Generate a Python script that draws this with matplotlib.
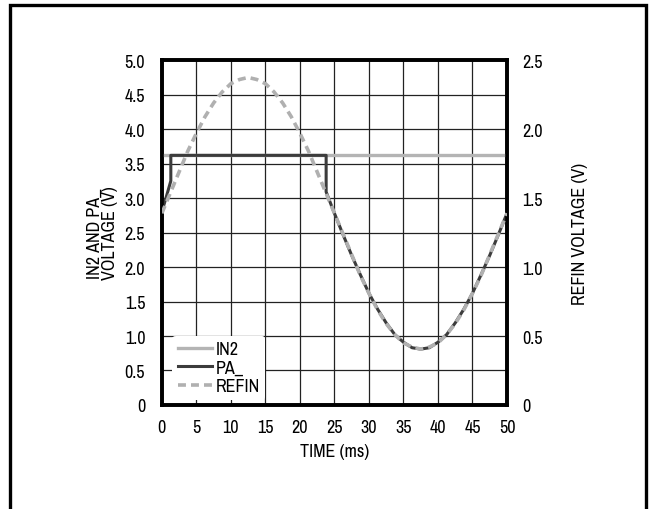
import matplotlib
matplotlib.use("Agg")
import matplotlib.pyplot as plt
import matplotlib.patches as patches
from matplotlib import font_manager

# pick a narrow sans if one is installed
names = {f.name for f in font_manager.fontManager.ttflist}
family = "Roboto"
for cand in ["Liberation Sans Narrow", "Archivo Narrow"]:
    if cand in names:
        family = cand
        break
else:
    narrow = sorted(n for n in names if "Narrow" in n or "Condensed" in n)
    if narrow:
        family = narrow[0]
plt.rcParams["font.family"] = [family, "DejaVu Sans"]

# REFIN waveform, read in REFIN volts (right axis)
refin_t = [0, 1.25, 2.5, 3.75, 5, 6.25, 7.5, 8.75, 10, 11.25, 12.5,
           13.75, 15, 16.25, 17.5, 18.75, 20, 21.25, 22.5, 23.75, 25,
           26.25, 27.5, 28.75, 30, 31.25, 32.5, 33.75, 35, 36.25, 37.5,
           38.75, 40, 41.25, 42.5, 43.75, 45, 46.25, 47.5, 48.75, 50]
refin_v = [1.39, 1.54, 1.69, 1.84, 1.97, 2.09, 2.19, 2.27, 2.33, 2.36, 2.375,
           2.36, 2.33, 2.27, 2.19, 2.09, 1.97, 1.84, 1.69, 1.54, 1.39,
           1.24, 1.09, 0.94, 0.81, 0.69, 0.59, 0.51, 0.45, 0.42, 0.405,
           0.42, 0.45, 0.51, 0.59, 0.69, 0.81, 0.94, 1.09, 1.24, 1.39]

# PA_ output (left axis)
pa_t = [0, 0.65, 1.3, 1.3, 23.8, 23.8, 25,
        26.25, 27.5, 28.75, 30, 31.25, 32.5, 33.75, 35, 36.25, 37.5,
        38.75, 40, 41.25, 42.5, 43.75, 45, 46.25, 47.5, 48.75, 50]
pa_v = [2.80, 3.02, 3.25, 3.62, 3.62, 3.09, 2.78,
        2.47, 2.17, 1.89, 1.62, 1.39, 1.19, 1.02, 0.91, 0.83, 0.81,
        0.83, 0.91, 1.02, 1.19, 1.39, 1.62, 1.89, 2.17, 2.47, 2.78]

# IN2 level (left axis)
in2_t = [0, 50]
in2_v = [3.62, 3.62]

left_ticks = [0, 0.5, 1.0, 1.5, 2.0, 2.5, 3.0, 3.5, 4.0, 4.5, 5.0]
left_labels = ["0", "0.5", "1.0", "1.5", "2.0", "2.5", "3.0", "3.5", "4.0", "4.5", "5.0"]
right_ticks = [0, 0.5, 1.0, 1.5, 2.0, 2.5]
right_labels = ["0", "0.5", "1.0", "1.5", "2.0", "2.5"]
x_ticks = [0, 5, 10, 15, 20, 25, 30, 35, 40, 45, 50]

fig = plt.figure(figsize=(6.5, 5.1), dpi=100)
ax = fig.add_axes([0.249, 0.204, 0.531, 0.676])
ax2 = ax.twinx()

fs = 13
ln_in2, = ax.plot(in2_t, in2_v, color="#b4b4b4", lw=2.4, label="IN2", zorder=3)
ln_pa, = ax.plot(pa_t, pa_v, color="#3c3c3c", lw=2.2, label="PA_", zorder=4)
ln_refin, = ax2.plot(refin_t, refin_v, color="#b0b0b0", lw=2.6, ls=(0, (2.2, 1.4)),
                     label="REFIN", zorder=5)

ax.set_xlim(0, 50)
ax.set_ylim(0, 5)
ax2.set_ylim(0, 2.5)
ax.set_xticks(x_ticks)
ax.set_xticklabels([str(t) for t in x_ticks], fontsize=fs)
ax.set_yticks(left_ticks)
ax.set_yticklabels(left_labels, fontsize=fs)
ax2.set_yticks(right_ticks)
ax2.set_yticklabels(right_labels, fontsize=fs)

ax.grid(True, color="#222222", lw=0.9)
ax.set_axisbelow(True)
ax.tick_params(axis="y", length=0, pad=12)
ax.tick_params(axis="x", length=0, pad=10)
ax2.tick_params(length=0, pad=11)

for a in (ax, ax2):
    for s in a.spines.values():
        s.set_linewidth(2.6)
        s.set_color("black")

ax.set_xlabel("TIME (ms)", fontsize=fs, labelpad=6)
ax.set_ylabel("IN2 AND PA_\nVOLTAGE (V)", fontsize=fs, labelpad=5, linespacing=0.95)
ax2.set_ylabel("REFIN VOLTAGE (V)", fontsize=fs, labelpad=21)

leg = ax2.legend(handles=[ln_in2, ln_pa, ln_refin], loc="lower left",
                 bbox_to_anchor=(0.03, 0.015), fontsize=fs, frameon=True,
                 handlelength=1.9, handletextpad=0.2, labelspacing=0.15,
                 borderpad=0.3, borderaxespad=0)
leg.get_frame().set_facecolor("white")
leg.get_frame().set_edgecolor("none")
leg.get_frame().set_alpha(1)

# outer border of the figure
border = patches.Rectangle((0.0154, -0.05), 0.9784, 1.038, transform=fig.transFigure,
                           fill=False, edgecolor="black", lw=2.4, clip_on=False)
fig.patches.append(border)

fig.savefig("out.png", dpi=100)
